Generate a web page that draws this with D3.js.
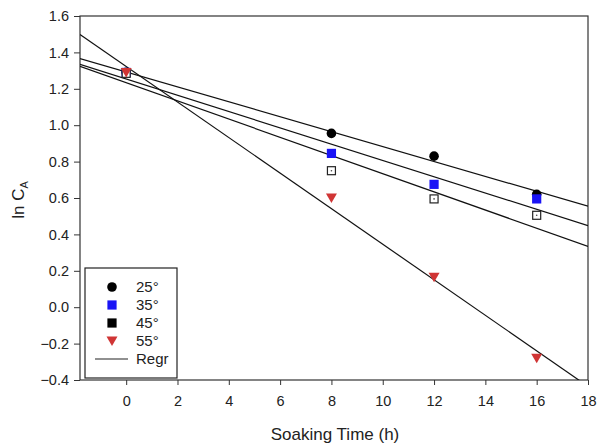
<!DOCTYPE html>
<html>
<head>
<meta charset="utf-8">
<script src="https://cdn.jsdelivr.net/npm/d3@7"></script>
<style>
  body { margin: 0; background: #fff; }
  text { font-family: "Liberation Sans", Arial, sans-serif; fill: #222; }
  .axis path, .axis line { stroke: #333; }
</style>
</head>
<body>
<div id="chart"></div>
<script>
'use strict';

// sampling times (h)
const hours = [0, 8, 12, 16];

// ln CA, one array per temperature
const t25 = [1.29, 0.955, 0.83, 0.62];
const t35 = [1.29, 0.845, 0.675, 0.595];
const t45 = [1.285, 0.75, 0.595, 0.505];
const t55 = [1.29, 0.60, 0.165, -0.28];

const seriesNames = ['25°', '35°', '45°', '55°'];
const xTicks = [0, 2, 4, 6, 8, 10, 12, 14, 16, 18];
const yTicks = [-0.4, -0.2, 0.0, 0.2, 0.4, 0.6, 0.8, 1.0, 1.2, 1.4, 1.6];

const series = [
    {name: seriesNames[0], values: t25, shape: 'circle', fill: '#000'},
    {name: seriesNames[1], values: t35, shape: 'square', fill: '#1a14f5'},
    {name: seriesNames[2], values: t45, shape: 'open', fill: '#000'},
    {name: seriesNames[3], values: t55, shape: 'tri', fill: '#d03535'}
];

const W = 598, H = 445;
const margin = {left: 80, top: 16, right: 10, bottom: 65};
const width = W - margin.left - margin.right;
const height = H - margin.top - margin.bottom;

const x = d3.scaleLinear().domain([-1.8, 18]).range([0, width]);
const y = d3.scaleLinear().domain([-0.4, 1.6]).range([height, 0]);

// least squares fit for the Regr lines
function fit(ys) {
    const mx = d3.mean(hours), my = d3.mean(ys);
    let sxy = 0, sxx = 0;
    hours.forEach((h, i) => { sxy += (h - mx) * (ys[i] - my); sxx += (h - mx) * (h - mx); });
    const b = sxy / sxx;
    return {a: my - b * mx, b: b};
}

const svg = d3.select('#chart').append('svg')
    .attr('width', W).attr('height', H);

const g = svg.append('g')
    .attr('transform', `translate(${margin.left}, ${margin.top})`);

g.append('defs').append('clipPath')
    .attr('id', 'clip')
  .append('rect')
    .attr('width', width).attr('height', height);

// axes
g.append('g')
    .attr('class', 'axis')
    .attr('transform', `translate(0, ${height})`)
    .call(d3.axisBottom(x).tickValues(xTicks).tickFormat(d3.format('d')).tickSize(5).tickPadding(11))
    .call(s => s.select('.domain').remove())
    .selectAll('text').style('font-size', '14.5px');

g.append('g')
    .attr('class', 'axis')
    .call(d3.axisLeft(y).tickValues(yTicks).tickFormat(d3.format('.1f')).tickSize(6).tickPadding(5))
    .call(s => s.select('.domain').remove())
    .selectAll('text').style('font-size', '14.5px');

// frame
g.append('rect')
    .attr('width', width).attr('height', height)
    .attr('fill', 'none').attr('stroke', '#333').attr('stroke-width', 1.2);

// regression lines
const inner = g.append('g').attr('clip-path', 'url(#clip)');
series.forEach(s => {
    const f = fit(s.values);
    const xs = x.domain();
    inner.append('line')
        .attr('x1', x(xs[0])).attr('y1', y(f.a + f.b * xs[0]))
        .attr('x2', x(xs[1])).attr('y2', y(f.a + f.b * xs[1]))
        .attr('stroke', '#111').attr('stroke-width', 1.2);
});

function drawMarker(sel, shape, fill) {
    if (shape === 'circle') {
        sel.append('circle').attr('r', 4.8).attr('fill', fill);
    } else if (shape === 'square') {
        sel.append('rect').attr('x', -4.6).attr('y', -4.6).attr('width', 9.2).attr('height', 9.2).attr('fill', fill);
    } else if (shape === 'open') {
        sel.append('rect').attr('x', -4).attr('y', -4).attr('width', 8).attr('height', 8)
            .attr('fill', '#fff').attr('stroke', '#222').attr('stroke-width', 1.2);
        sel.append('circle').attr('r', 0.8).attr('fill', '#444');
    } else if (shape === 'tri') {
        sel.append('path').attr('d', 'M-5.5,-4.5L5.5,-4.5L0,5Z').attr('fill', fill);
    }
}

// points
series.forEach(s => {
    s.values.forEach((v, i) => {
        const m = g.append('g').attr('transform', `translate(${x(hours[i])}, ${y(v)})`);
        drawMarker(m, s.shape, s.fill);
    });
});

// legend
const lg = g.append('g').attr('transform', 'translate(5, 252)');
lg.append('rect')
    .attr('width', 92).attr('height', 110)
    .attr('fill', '#fff').attr('stroke', '#222').attr('stroke-width', 1.2);
const legendItems = series.map(s => ({name: s.name, shape: s.shape === 'open' ? 'square' : s.shape, fill: s.fill}))
    .concat([{name: 'Regr', shape: 'line'}]);
legendItems.forEach((d, i) => {
    const row = lg.append('g').attr('transform', `translate(27, ${19 + i * 18})`);
    if (d.shape === 'line') {
        row.append('line').attr('x1', -17).attr('x2', 16).attr('stroke', '#222').attr('stroke-width', 1.2);
    } else {
        drawMarker(row, d.shape, d.fill);
    }
    row.append('text')
        .attr('x', 24).attr('dy', '0.36em')
        .style('font-size', '15px')
        .text(d.name);
});

// axis titles
svg.append('text')
    .attr('x', 335).attr('y', 440)
    .attr('text-anchor', 'middle')
    .style('font-size', '17px')
    .text('Soaking Time (h)');

const yl = svg.append('text')
    .attr('transform', `translate(24, ${margin.top + height / 2 + 2}) rotate(-90)`)
    .attr('text-anchor', 'middle')
    .style('font-size', '17px');
yl.append('tspan').text('ln C');
yl.append('tspan').attr('dy', 4).style('font-size', '11px').text('A');
</script>
</body>
</html>
